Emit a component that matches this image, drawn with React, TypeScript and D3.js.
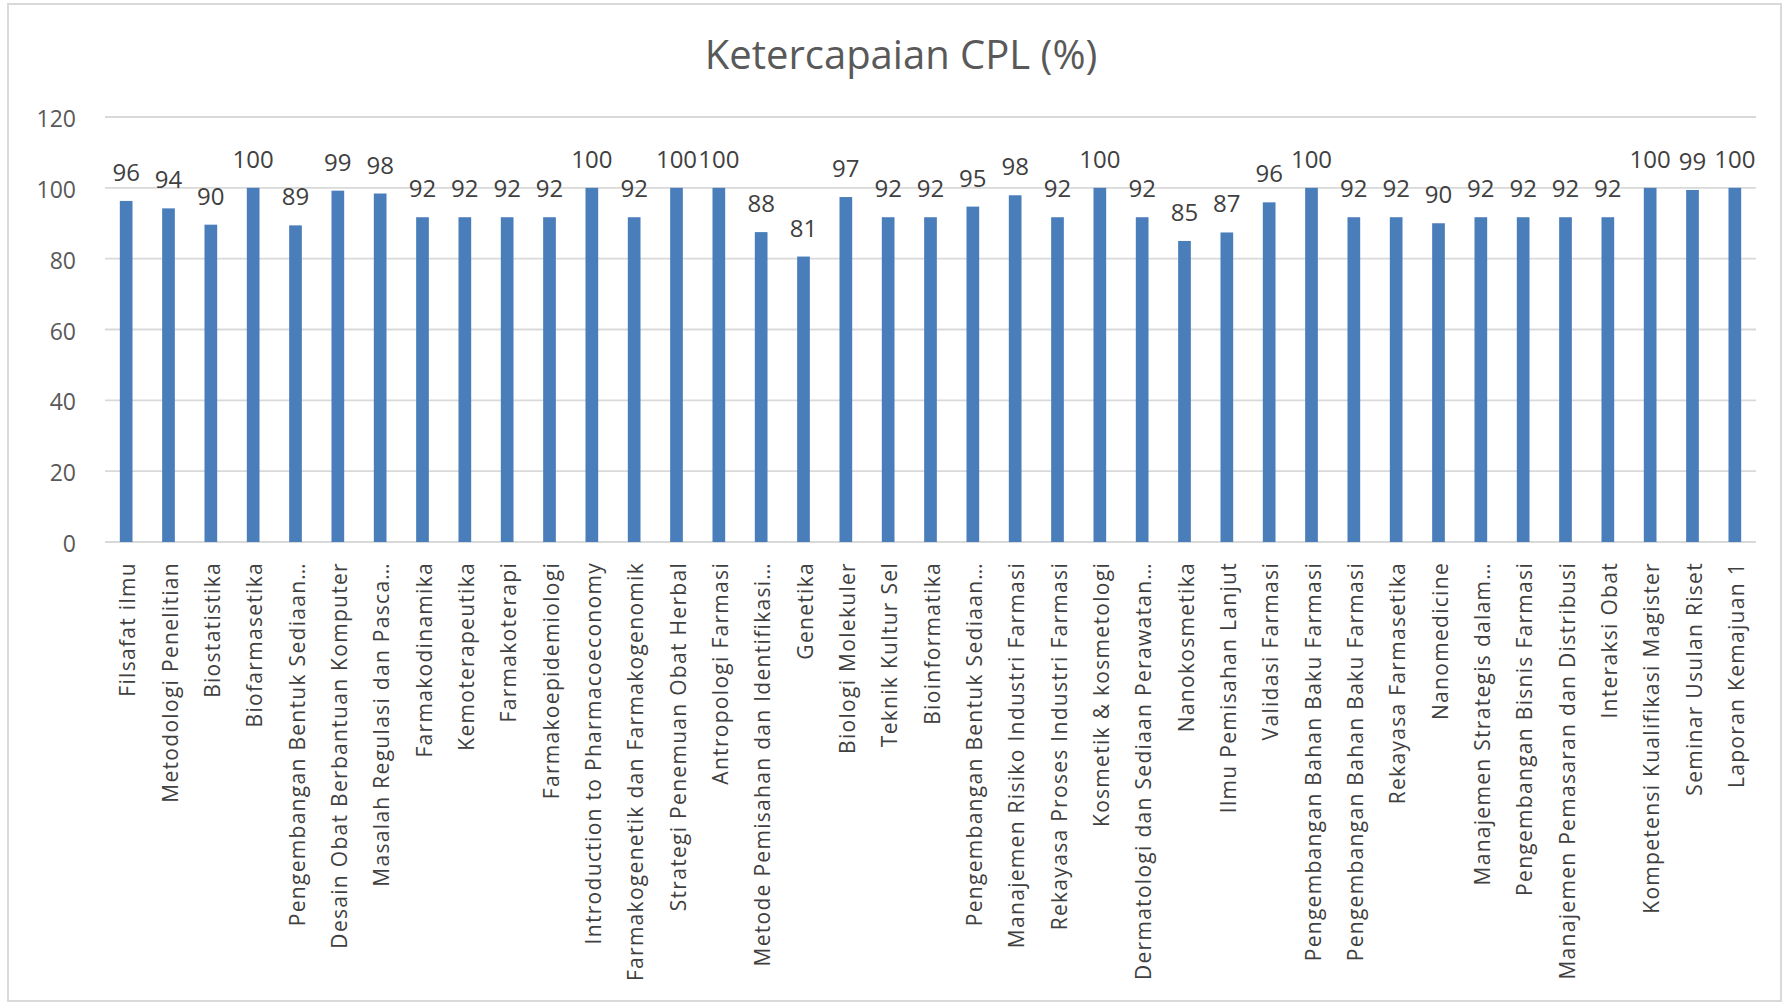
import React from "react";
import * as d3 from "d3";

const title = "Ketercapaian CPL (%)";

const categories: string[] = [
  "Filsafat ilmu",
  "Metodologi Penelitian",
  "Biostatistika",
  "Biofarmasetika",
  "Pengembangan Bentuk Sediaan…",
  "Desain Obat Berbantuan Komputer",
  "Masalah Regulasi dan Pasca…",
  "Farmakodinamika",
  "Kemoterapeutika",
  "Farmakoterapi",
  "Farmakoepidemiologi",
  "Introduction to Pharmacoeconomy",
  "Farmakogenetik dan Farmakogenomik",
  "Strategi Penemuan Obat Herbal",
  "Antropologi Farmasi",
  "Metode Pemisahan dan Identifikasi…",
  "Genetika",
  "Biologi Molekuler",
  "Teknik Kultur Sel",
  "Bioinformatika",
  "Pengembangan Bentuk Sediaan…",
  "Manajemen Risiko Industri Farmasi",
  "Rekayasa Proses Industri Farmasi",
  "Kosmetik & kosmetologi",
  "Dermatologi dan Sediaan Perawatan…",
  "Nanokosmetika",
  "Ilmu Pemisahan Lanjut",
  "Validasi Farmasi",
  "Pengembangan Bahan Baku Farmasi",
  "Pengembangan Bahan Baku Farmasi",
  "Rekayasa Farmasetika",
  "Nanomedicine",
  "Manajemen Strategis dalam…",
  "Pengembangan Bisnis Farmasi",
  "Manajemen Pemasaran dan Distribusi",
  "Interaksi Obat",
  "Kompetensi Kualifikasi Magister",
  "Seminar Usulan Riset",
  "Laporan Kemajuan 1",
];

const values: number[] = [
  96.3, 94.2, 89.6, 100, 89.4, 99.2, 98.4, 91.7, 91.7, 91.7, 91.7, 100, 91.7,
  100, 100, 87.5, 80.6, 97.4, 91.7, 91.7, 94.7, 97.9, 91.7, 100, 91.7, 85.0,
  87.4, 95.9, 100, 91.7, 91.7, 90.0, 91.7, 91.7, 91.7, 91.7, 100, 99.4, 100,
];

const yTicks: number[] = [0, 20, 40, 60, 80, 100, 120];

const W = 1788;
const H = 1008;
const FONT = "Open Sans, Calibri, sans-serif";

export default function App() {
  const left = 105;
  const right = 1756;
  const top = 117;
  const bottom = 542;

  const x = d3
    .scaleBand<number>()
    .domain(d3.range(categories.length))
    .range([left, right])
    .paddingInner(0.7)
    .paddingOuter(0.35);
  const y = d3.scaleLinear().domain([0, 120]).range([bottom, top]);
  const fmt = d3.format(".0f");

  return (
    <svg
      width={W}
      height={H}
      style={{ position: "absolute", left: 0, top: 0, background: "#fff" }}
      fontFamily={FONT}
    >
      <rect x={8} y={4} width={1773} height={997} fill="#fff" stroke="#d9d9d9" strokeWidth={2} />
      <text x={901} y={69} textAnchor="middle" fontSize={40} fill="#595959">
        {title}
      </text>
      {yTicks.map((t) => (
        <g key={t}>
          <line x1={left} x2={right} y1={y(t)} y2={y(t)} stroke="#d9d9d9" strokeWidth={1.8} />
          <text
            x={76}
            y={y(t) + 1}
            textAnchor="end"
            dominantBaseline="central"
            fontSize={23}
            fill="#595959"
          >
            {t}
          </text>
        </g>
      ))}
      {values.map((v, i) => (
        <rect
          key={i}
          x={x(i)}
          y={y(v)}
          width={x.bandwidth()}
          height={y(0) - y(v)}
          fill="#4a7ebb"
        />
      ))}
      {values.map((v, i) => (
        <text
          key={"l" + i}
          x={(x(i) as number) + x.bandwidth() / 2}
          y={y(v) - 20}
          textAnchor="middle"
          fontSize={24}
          fill="#404040"
        >
          {fmt(v)}
        </text>
      ))}
      {categories.map((c, i) => {
        const cx = (x(i) as number) + x.bandwidth() / 2 + 1;
        const cy = 562;
        return (
          <text
            key={"c" + i}
            transform={`translate(${cx},${cy}) rotate(-90)`}
            textAnchor="end"
            dominantBaseline="central"
            fontSize={21}
            letterSpacing={1.3}
            fill="#404040"
          >
            {c}
          </text>
        );
      })}
    </svg>
  );
}
